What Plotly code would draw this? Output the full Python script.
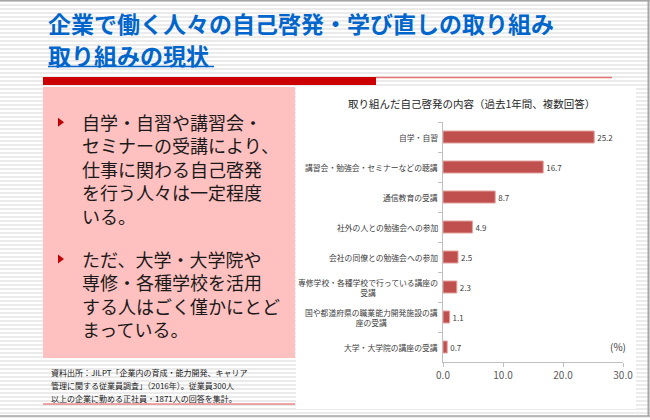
import plotly.graph_objects as go

W, H = 650, 420
FONT = "Noto Sans CJK JP"

# ---------------- data ----------------
categories = [
    "自学・自習",
    "講習会・勉強会・セミナーなどの聴講",
    "通信教育の受講",
    "社外の人との勉強会への参加",
    "会社の同僚との勉強会への参加",
    "専修学校・各種学校で行っている講座の<br>受講",
    "国や都道府県の職業能力開発施設の講<br>座の受講",
    "大学・大学院の講座の受講",
]
values = [25.2, 16.7, 8.7, 4.9, 2.5, 2.3, 1.1, 0.7]
x_tickvals = [0, 10, 20, 30]
x_ticktext = ["0.0", "10.0", "20.0", "30.0"]

title_lines = ["企業で働く人々の自己啓発・学び直しの取り組み", "取り組みの現状"]
bullet1_lines = ["自学・自習や講習会・", "セミナーの受講により、", "仕事に関わる自己啓発",
                 "を行う人々は一定程度", "いる。"]
bullet2_lines = ["ただ、大学・大学院や", "専修・各種学校を活用", "する人はごく僅かにとど",
                 "まっている。"]
source_lines = ["資料出所：JILPT「企業内の育成・能力開発、キャリア",
                "管理に関する従業員調査」（2016年）。従業員300人",
                "以上の企業に勤める正社員・1871人の回答を集計。"]
chart_title = "取り組んだ自己啓発の内容（過去1年間、複数回答）"
unit_label = "(%)"


def px(x):
    return x / W


def py(y):
    return 1 - y / H


shapes = []
# striped slide background
for yy in range(0, H, 4):
    shapes.append(dict(type="rect", xref="paper", yref="paper", layer="below",
                       x0=0, x1=1, y0=py(yy + 2), y1=py(yy),
                       fillcolor="#EBEBEB", line=dict(width=0)))
# white chart panel
shapes.append(dict(type="rect", xref="paper", yref="paper", layer="below",
                   x0=px(296), x1=px(636), y0=py(409), y1=py(87),
                   fillcolor="white", line=dict(width=0)))
# pink text panel
shapes.append(dict(type="rect", xref="paper", yref="paper", layer="below",
                   x0=px(43), x1=px(295), y0=py(358), y1=py(87),
                   fillcolor="#FFC0C0", line=dict(width=0)))
# red header bar and thin line
shapes.append(dict(type="rect", xref="paper", yref="paper", layer="below",
                   x0=px(43), x1=px(376), y0=py(85), y1=py(77),
                   fillcolor="#CC0000", line=dict(width=0)))
shapes.append(dict(type="line", xref="paper", yref="paper", layer="below",
                   x0=px(376), x1=px(612), y0=py(77.5), y1=py(77.5),
                   line=dict(color="#E57373", width=1.5)))
# title underline
shapes.append(dict(type="line", xref="paper", yref="paper", layer="above",
                   x0=px(48), x1=px(214), y0=py(66.5), y1=py(66.5),
                   line=dict(color="#0066CC", width=1.5)))
# source underline
shapes.append(dict(type="line", xref="paper", yref="paper", layer="below",
                   x0=px(43), x1=px(295), y0=py(404), y1=py(404),
                   line=dict(color="#E05050", width=1)))
# slide borders
shapes.append(dict(type="line", xref="paper", yref="paper", layer="above",
                   x0=0, x1=1, y0=py(0.75), y1=py(0.75),
                   line=dict(color="#A6A6A6", width=1.5)))
shapes.append(dict(type="line", xref="paper", yref="paper", layer="above",
                   x0=px(648.5), x1=px(648.5), y0=py(416), y1=1,
                   line=dict(color="#A6A6A6", width=2)))
shapes.append(dict(type="line", xref="paper", yref="paper", layer="above",
                   x0=0, x1=1, y0=py(416), y1=py(416),
                   line=dict(color="#A6A6A6", width=1.5)))

BODY_SIZE = 18
LINE_STEP = 1.3 * BODY_SIZE
bullet_blocks = [(bullet1_lines, 169), (bullet2_lines, 294)]

annotations = []
# slide title
for text, cy in zip(title_lines, (23, 55)):
    annotations.append(dict(text=f"<b>{text}</b>", xref="paper", yref="paper",
                            x=px(46), y=py(cy), xanchor="left", yanchor="middle",
                            showarrow=False, font=dict(family=FONT, size=23, color="#0066CC")))
# bullet text blocks + triangles aligned with first line
for lines, cy in bullet_blocks:
    annotations.append(dict(text="<br>".join(lines), xref="paper", yref="paper",
                            x=px(81), y=py(cy), xanchor="left", yanchor="middle", align="left",
                            showarrow=False, borderpad=0,
                            font=dict(family=FONT, size=BODY_SIZE, color="#1A1A1A")))
    first = cy - (len(lines) - 1) * LINE_STEP / 2
    shapes.append(dict(type="path", xref="paper", yref="paper", layer="above",
                       path=f"M {px(58)},{py(first - 4.5)} L {px(64)},{py(first)} L {px(58)},{py(first + 4.5)} Z",
                       fillcolor="#C00000", line=dict(width=0)))
# source note
for i, t in enumerate(source_lines):
    annotations.append(dict(text=t, xref="paper", yref="paper",
                            x=px(50), y=py(372 + 13 * i), xanchor="left", yanchor="middle",
                            showarrow=False, borderpad=0,
                            font=dict(family=FONT, size=8, color="#1A1A1A")))
# chart title
annotations.append(dict(text=chart_title, xref="paper", yref="paper",
                        x=px(471), y=py(103), xanchor="center", yanchor="middle",
                        showarrow=False, font=dict(family=FONT, size=10.5, color="#262626")))
# unit label
annotations.append(dict(text=unit_label, xref="paper", yref="paper",
                        x=px(618), y=py(346), xanchor="center", yanchor="middle",
                        showarrow=False, font=dict(family=FONT, size=10, color="#404040")))
# category labels (right-aligned block, centered lines)
for c in categories:
    annotations.append(dict(text=c, xref="paper", yref="y", x=px(439), y=c,
                            xanchor="right", yanchor="middle", align="center",
                            showarrow=False, borderpad=0,
                            font=dict(family=FONT, size=7.8, color="#404040")))

fig = go.Figure(go.Bar(
    y=categories, x=values, orientation="h", width=0.4,
    marker=dict(color="#C0504D", line=dict(color="#E3A09E", width=1)),
    text=values, texttemplate="%{x:.1f}", textposition="outside",
    textfont=dict(family=FONT, size=10, color="#404040"),
    cliponaxis=False, hoverinfo="skip",
))

fig.update_layout(
    template="none",
    width=W, height=H,
    margin=dict(l=0, r=0, t=0, b=0, pad=0, autoexpand=False),
    paper_bgcolor="white", plot_bgcolor="rgba(0,0,0,0)",
    showlegend=False,
    font=dict(family=FONT),
    shapes=shapes, annotations=annotations,
    xaxis=dict(domain=[px(443), px(623)], range=[0, 30], tickvals=x_tickvals, ticktext=x_ticktext,
               showline=True, linecolor="#BFBFBF", linewidth=1, ticks="outside", ticklen=4,
               tickcolor="#BFBFBF", tickwidth=1, automargin=False,
               showgrid=False, zeroline=False, fixedrange=True,
               tickfont=dict(family=FONT, size=10, color="#595959")),
    yaxis=dict(domain=[py(362), py(122)], type="category", categoryorder="array",
               categoryarray=categories, range=[len(categories) - 0.5, -0.5],
               showticklabels=False, showline=True, linecolor="#BFBFBF", linewidth=1,
               ticks="outside", tickson="boundaries", ticklen=4, tickcolor="#BFBFBF", tickwidth=1,
               automargin=False, showgrid=False, zeroline=False, fixedrange=True),
)

fig.write_html("out.html", config={"displayModeBar": False},
               post_script="document.body.style.margin='0';")
